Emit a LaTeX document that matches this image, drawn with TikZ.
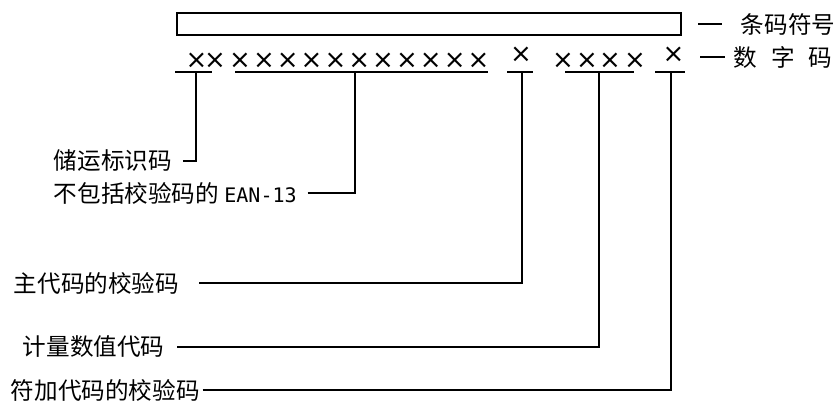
\documentclass[tikz,border=0pt]{standalone}
\usepackage{fontspec}
\setmainfont{Noto Sans CJK SC}
\newfontfamily\crossfont{DejaVu Sans}
\newfontfamily\codefont{DejaVu Sans Mono}
\tikzset{
  lbl/.style={anchor=west},
  cross/.style={font=\crossfont\fontsize{13}{15}\selectfont}
}
\begin{document}
\begin{tikzpicture}[x=0.5pt,y=-0.5pt,line width=0.9pt,every node/.style={font=\fontsize{11.8}{14}\selectfont,inner sep=0pt}]
\useasboundingbox (0,0) rectangle (839,401);
% bar and digit row
\node (bar) [draw,minimum width=252pt,minimum height=11pt,anchor=north west] at (176,12) {};
\node (barlbl) [lbl] at (740,24) {条码符号};
\node (numlbl) [lbl] at (733,57) {数\hspace{6.9pt}字\hspace{6.9pt}码};
\draw ([xshift=-21pt]barlbl.west) -- ([xshift=-9pt]barlbl.west);
\draw ([xshift=-16.5pt]numlbl.west) -- ([xshift=-4pt]numlbl.west);
\foreach \px [count=\i] in {196.5,215,240,263.9,287.7,311.6,335.4,359.3,383.1,407,430.8,454.7,478.5,563,587,610,635}
  \node (x\i) [cross] at (\px,61) {×};
\node (xa) [cross] at (521,55) {×};
\node (xb) [cross] at (673.5,55) {×};
% underlines
\coordinate (ship-u) at (196,72);
\coordinate (ean-u) at (355,72);
\coordinate (main-u) at (522,72);
\coordinate (qty-u) at (599,72);
\coordinate (add-u) at (671,72);
\draw (175,72) -- (212,72);
\draw (235,72) -- (488,72);
\draw (507,72) -- (533,72);
\draw (565,72) -- (634,72);
\draw (655,72) -- (685,72);
% labels
\node (ship) [lbl] at (53,161) {储运标识码};
\node (ean) [lbl] at (53,193) {不包括校验码的 {\codefont\fontsize{10}{12}\selectfont EAN-13}};
\node (mainchk) [lbl] at (13,283) {主代码的校验码};
\node (qty) [lbl] at (22,347) {计量数值代码};
\node (addchk) [lbl] at (10,390) {符加代码的校验码};
\draw ([xshift=5pt]ship.east) -| (ship-u);
\draw ([xshift=5pt]ean.east) -| (ean-u);
\draw ([xshift=9.5pt]mainchk.east) -| (main-u);
\draw ([xshift=6pt]qty.east) -| (qty-u);
\draw ([xshift=1pt]addchk.east) -| (add-u);
\end{tikzpicture}
\end{document}
